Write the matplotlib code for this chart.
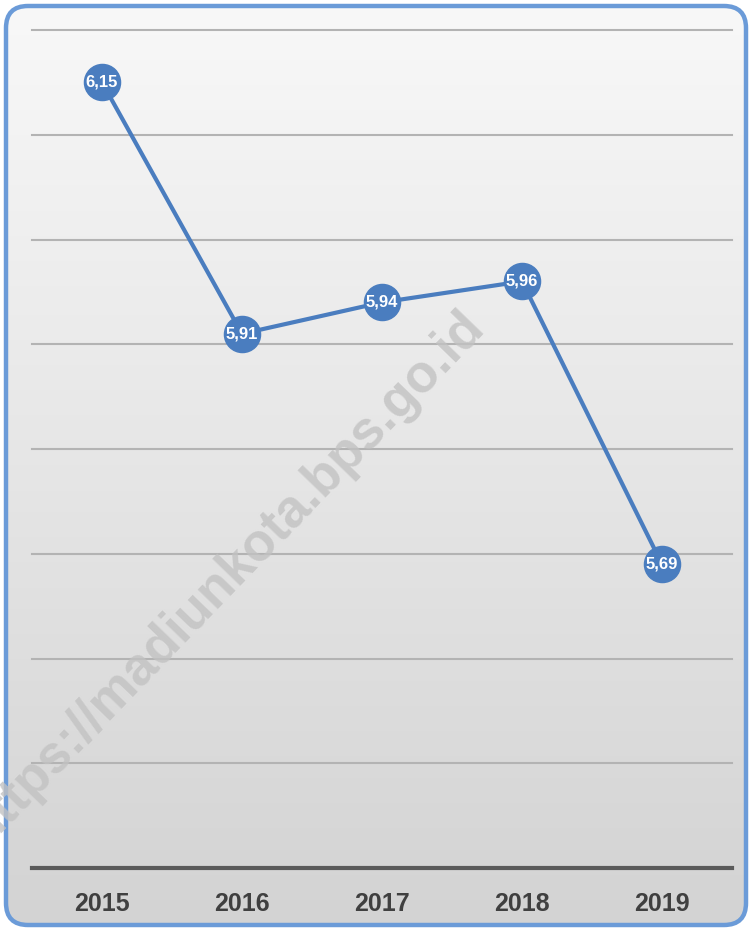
import numpy as np
import matplotlib.pyplot as plt
from matplotlib.patches import FancyBboxPatch
from matplotlib.colors import LinearSegmentedColormap

years = ['2015', '2016', '2017', '2018', '2019']
values = [6.15, 5.91, 5.94, 5.96, 5.69]
value_labels = ['6,15', '5,91', '5,94', '5,96', '5,69']
grid_levels = [5.5, 5.6, 5.7, 5.8, 5.9, 6.0, 6.1, 6.2]
watermark = 'https://madiunkota.bps.go.id'

narrow = ['Liberation Sans Narrow', 'Liberation Sans', 'DejaVu Sans']
line_blue = '#4a7dbf'

fig = plt.figure(figsize=(7.52, 9.31), dpi=100)

# background: rounded frame with a soft vertical gradient
bg = fig.add_axes([0, 0, 1, 1])
bg.set_xlim(0, 752)
bg.set_ylim(931, 0)
bg.axis('off')
frame = FancyBboxPatch((6, 6), 740, 919, boxstyle='round,pad=0,rounding_size=22',
                       facecolor='none', edgecolor='#6b9bd8', lw=3.2, zorder=3)
bg.add_patch(frame)
grad = np.linspace(0, 1, 256).reshape(-1, 1)
cmap = LinearSegmentedColormap.from_list('bg', ['#f8f8f8', '#e6e6e6', '#d3d3d3'])
im = bg.imshow(grad, extent=(6, 746, 925, 6), cmap=cmap, aspect='auto', zorder=1)
im.set_clip_path(frame)

# main chart
ax = fig.add_axes([32 / 752, 63 / 931, 700 / 752, 838 / 931])
ax.patch.set_alpha(0)
x = np.arange(len(years))
ax.set_xlim(-0.5, len(years) - 0.5)
ax.set_ylim(5.4, 6.2)

for lvl in grid_levels:
    ax.axhline(lvl, color='#b3b3b3', lw=1.5, zorder=1, clip_on=False)

for side in ['top', 'right', 'left']:
    ax.spines[side].set_visible(False)
ax.spines['bottom'].set_color('#5a5a5a')
ax.spines['bottom'].set_linewidth(3)

ax.set_yticks([])
ax.set_xticks(x)
ax.set_xticklabels(years, family=narrow, fontsize=18, fontweight='bold', color='#404040')
ax.tick_params(axis='x', length=0, pad=17)

ax.text(0.30, 0.38, watermark, transform=fig.transFigure, rotation=46,
        ha='center', va='center', fontsize=38, fontweight='bold',
        family=['Liberation Sans', 'DejaVu Sans'],
        color='#c2c2c2', alpha=0.8, zorder=1.5)

ax.plot(x, values, color=line_blue, lw=3, marker='o', ms=26,
        mfc=line_blue, mec=line_blue, zorder=3, clip_on=False)
for xi, v, lab in zip(x, values, value_labels):
    ax.text(xi, v, lab, ha='center', va='center', color='white',
            family=narrow, fontsize=12, fontweight='bold', zorder=4)

fig.savefig('out.png', dpi=100)
